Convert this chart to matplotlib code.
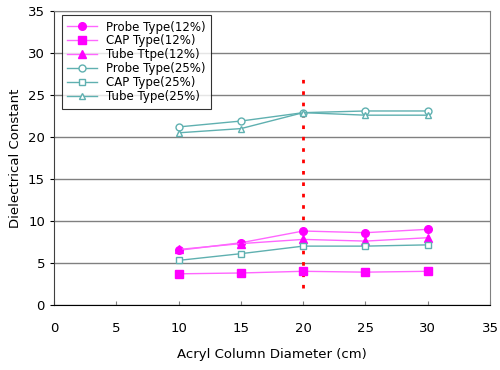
import matplotlib
matplotlib.use("Agg")
import matplotlib.pyplot as plt

diameter = [10, 15, 20, 25, 30]
probe_12 = [6.5, 7.4, 8.8, 8.6, 9.0]
cap_12 = [3.7, 3.8, 4.0, 3.9, 4.0]
tube_12 = [6.6, 7.3, 7.8, 7.6, 8.0]
probe_25 = [21.2, 21.9, 22.9, 23.1, 23.1]
cap_25 = [5.3, 6.1, 7.0, 7.0, 7.15]
tube_25 = [20.5, 21.0, 22.9, 22.6, 22.6]

pink = "#ff00ff"
pink_line = "#ff66ff"
teal = "#5fb0b0"

fig = plt.figure(figsize=(5, 3.7), dpi=100)
ax = fig.add_axes([0.108, 0.176, 0.872, 0.794])

ax.plot(diameter, probe_12, color=pink_line, lw=1, marker="o", ms=5.5,
        mfc=pink, mec=pink, label="Probe Type(12%)")
ax.plot(diameter, cap_12, color=pink_line, lw=1, marker="s", ms=5.5,
        mfc=pink, mec=pink, label="CAP Type(12%)")
ax.plot(diameter, tube_12, color=pink_line, lw=1, marker="^", ms=5.5,
        mfc=pink, mec=pink, label="Tube Ttpe(12%)")
ax.plot(diameter, probe_25, color=teal, lw=1, marker="o", ms=5,
        mfc="white", mec=teal, label="Probe Type(25%)")
ax.plot(diameter, cap_25, color=teal, lw=1, marker="s", ms=5,
        mfc="white", mec=teal, label="CAP Type(25%)")
ax.plot(diameter, tube_25, color=teal, lw=1, marker="^", ms=5,
        mfc="white", mec=teal, label="Tube Type(25%)")

# red dotted marker line at 20 cm
ax.plot([20, 20], [2.0, 27.5], color="red", lw=2, ls=(0, (1.3, 2.8)), zorder=1)

ax.set_xlim(0, 35)
ax.set_ylim(0, 35)
ax.set_xticks(range(0, 36, 5))
ax.set_yticks(range(0, 36, 5))
ax.yaxis.grid(True, color="#808080", lw=1)
ax.set_axisbelow(True)
ax.tick_params(axis="x", direction="in", length=3, color="#808080", labelsize=9.5, pad=12)
ax.tick_params(axis="y", direction="out", length=3, labelsize=9.5)
for s in ["top", "right"]:
    ax.spines[s].set_color("#808080")
ax.spines["left"].set_color("#404040")
ax.spines["bottom"].set_color("black")

ax.set_xlabel("Acryl Column Diameter (cm)", fontsize=9.5, labelpad=10)
ax.set_ylabel("Dielectrical Constant", fontsize=9.5)

leg = ax.legend(loc="upper left", bbox_to_anchor=(0.018, 0.986), borderaxespad=0,
                fontsize=8.5, frameon=True, fancybox=False, edgecolor="black",
                handlelength=2.5, labelspacing=0.08, borderpad=0.45)
leg.get_frame().set_linewidth(0.8)

fig.savefig("out.png", dpi=100)
